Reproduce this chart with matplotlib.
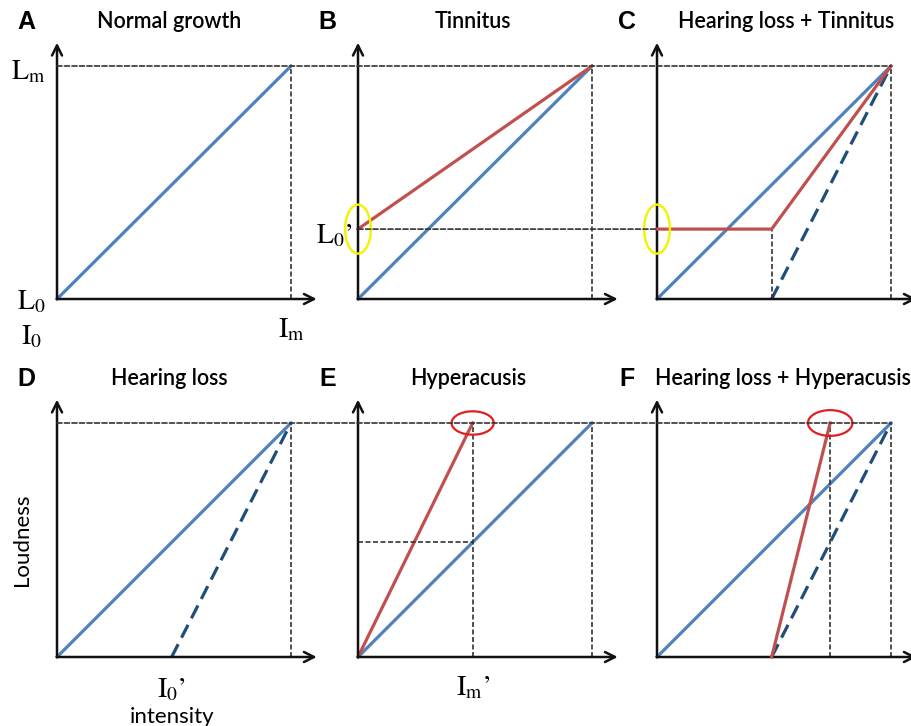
import matplotlib.pyplot as plt
from matplotlib.patches import ConnectionPatch, Ellipse

plt.rcParams['mathtext.fontset'] = 'stix'

# curve data, intensity (x) and loudness (y) scaled 0..1
normal_x = [0, 1]
normal_y = [0, 1]
tinnitus_x = [0, 1]
tinnitus_y = [0.30, 1]
hl_x = [0.49, 1]
hl_y = [0, 1]
hl_tin_x = [0, 0.49, 1]
hl_tin_y = [0.30, 0.30, 1]
hyper_x = [0, 0.49]
hyper_y = [0, 1]
hl_hyper_x = [0.49, 0.74]
hl_hyper_y = [0, 1]

L0_prime = 0.30
I0_prime = 0.49
Im_prime = 0.49
Im_prime_hl = 0.74

letters = ['A', 'B', 'C', 'D', 'E', 'F']
titles = ['Normal growth', 'Tinnitus', 'Hearing loss + Tinnitus',
          'Hearing loss', 'Hyperacusis', 'Hearing loss + Hyperacusis']
title_x = [0.48, 0.49, 0.55, 0.48, 0.47, 0.54]

BLUE = '#4f81bd'
RED = '#c0504d'
DBLUE = '#1f4e79'
REF = '#333333'
REF_LS = (0, (3, 1.5))
HL_LS = (0, (4.5, 2.3))
SERIF = ['STIXGeneral', 'DejaVu Serif']

W, H = 912, 726
fig = plt.figure(figsize=(W / 100, H / 100), dpi=100)

lefts = [57, 358, 657]
tops = [66, 423]
bottoms = [299, 657]
pw = 234

axes = []
for r in range(2):
    for c in range(3):
        ax = fig.add_axes([lefts[c] / W, 1 - bottoms[r] / H, pw / W, (bottoms[r] - tops[r]) / H])
        ax.set_xlim(0, 1)
        ax.set_ylim(0, 1)
        ax.axis('off')
        axes.append(ax)

def ref(ax, x, y):
    ax.plot(x, y, color=REF, lw=1.2, ls=REF_LS, clip_on=False, zorder=2)

for i, ax in enumerate(axes):
    # axis arrows
    ax.annotate('', xy=(0, 1.1), xytext=(0, 0),
                arrowprops=dict(arrowstyle='->', lw=1.8, color='#111111', mutation_scale=18,
                                shrinkA=0, shrinkB=0), annotation_clip=False)
    ax.annotate('', xy=(1.11, 0), xytext=(0, 0),
                arrowprops=dict(arrowstyle='->', lw=1.8, color='#111111', mutation_scale=18,
                                shrinkA=0, shrinkB=0), annotation_clip=False)
    ref(ax, [1, 1], [0, 1])
    ax.text(-0.13, 1.19, letters[i], transform=ax.transAxes, fontsize=18,
            fontweight='bold', family='Liberation Sans', ha='center', va='center')
    ax.text(title_x[i], 1.19, titles[i], transform=ax.transAxes, fontsize=15.5,
            family='Lato', fontweight='semibold', ha='center', va='center')

# top and bottom Lm dashed lines across panels
for a, b in [(axes[0], axes[2]), (axes[3], axes[5])]:
    con = ConnectionPatch(xyA=(0, 1), coordsA=a.transData, xyB=(1, 1), coordsB=b.transData,
                          color=REF, lw=1.2, ls=REF_LS, zorder=2)
    fig.add_artist(con)

# L0' dashed line from B into C
con = ConnectionPatch(xyA=(0, L0_prime), coordsA=axes[1].transData, xyB=(0, L0_prime),
                      coordsB=axes[2].transData, color=REF, lw=1.2, ls=REF_LS, zorder=2)
fig.add_artist(con)

# A
axA = axes[0]
axA.plot(normal_x, normal_y, color=BLUE, lw=2.3, clip_on=False)
axA.text(-0.05, 0.98, r'$\mathrm{L_m}$', fontsize=20, ha='right', va='center')
axA.text(-0.05, -0.01, r'$\mathrm{L_0}$', fontsize=20, ha='right', va='center')
axA.text(-0.107, -0.16, r'$\mathrm{I_0}$', fontsize=20, ha='center', va='center')
axA.text(1.0, -0.13, r'$\mathrm{I_m}$', fontsize=20, ha='center', va='center')

# B
axB = axes[1]
axB.plot(normal_x, normal_y, color=BLUE, lw=2.3, clip_on=False)
axB.plot(tinnitus_x, tinnitus_y, color=RED, lw=2.3, clip_on=False)
axB.text(-0.025, L0_prime - 0.03, "$\\mathrm{L_0}$\u2019", fontsize=20, family=SERIF,
         ha='right', va='center')
axB.add_patch(Ellipse((0, L0_prime), 0.11, 0.21, fill=False, ec='#f2f20a', lw=1.8, clip_on=False, zorder=5))

# C
axC = axes[2]
axC.plot(normal_x, normal_y, color=BLUE, lw=2.3, clip_on=False)
axC.plot(hl_x, hl_y, color=DBLUE, lw=2.3, ls=HL_LS, clip_on=False)
axC.plot(hl_tin_x, hl_tin_y, color=RED, lw=2.3, clip_on=False, zorder=3)
ref(axC, [I0_prime, I0_prime], [0, L0_prime])
axC.add_patch(Ellipse((0, L0_prime), 0.11, 0.21, fill=False, ec='#f2f20a', lw=1.8, clip_on=False, zorder=5))

# D
axD = axes[3]
axD.plot(normal_x, normal_y, color=BLUE, lw=2.3, clip_on=False)
axD.plot(hl_x, hl_y, color=DBLUE, lw=2.3, ls=HL_LS, clip_on=False)
axD.text(I0_prime, -0.14, "$\\mathrm{I_0}$\u2019", fontsize=20, family=SERIF,
         ha='center', va='center')
axD.text(I0_prime, -0.255, 'intensity', fontsize=16, family='Lato', ha='center', va='center')
axD.text(-0.15, 0.5, 'Loudness', fontsize=16, family='Lato', rotation=90, ha='center', va='center')

# E
axE = axes[4]
axE.plot(normal_x, normal_y, color=BLUE, lw=2.3, clip_on=False)
axE.plot(hyper_x, hyper_y, color=RED, lw=2.3, clip_on=False)
ref(axE, [Im_prime, Im_prime], [0, 1])
ref(axE, [0, Im_prime], [Im_prime, Im_prime])
axE.text(Im_prime, -0.13, "$\\mathrm{I_m}$\u2019", fontsize=20, family=SERIF,
         ha='center', va='center')
axE.add_patch(Ellipse((Im_prime, 1), 0.18, 0.1, fill=False, ec='#e02020', lw=1.6, clip_on=False, zorder=5))

# F
axF = axes[5]
axF.plot(normal_x, normal_y, color=BLUE, lw=2.3, clip_on=False)
axF.plot(hl_x, hl_y, color=DBLUE, lw=2.3, ls=HL_LS, clip_on=False)
axF.plot(hl_hyper_x, hl_hyper_y, color=RED, lw=2.3, clip_on=False, zorder=3)
ref(axF, [Im_prime_hl, Im_prime_hl], [0, 1])
axF.add_patch(Ellipse((Im_prime_hl, 1), 0.19, 0.11, fill=False, ec='#e02020', lw=1.6, clip_on=False, zorder=5))

plt.savefig('out.png', dpi=100)
